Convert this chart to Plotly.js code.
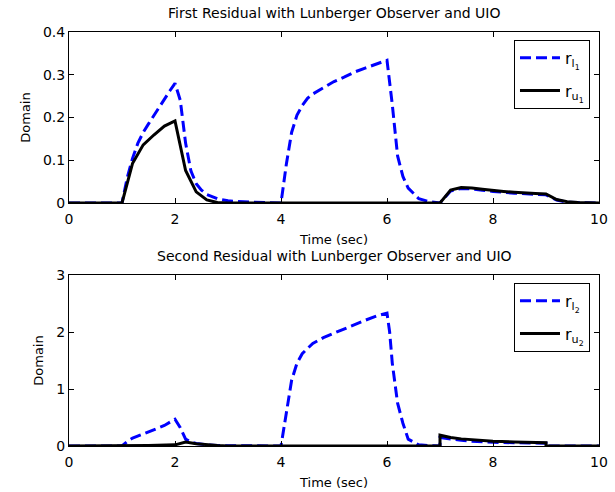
<!DOCTYPE html>
<html>
<head>
<meta charset="utf-8">
<script src="https://cdn.plot.ly/plotly-3.0.1.min.js"></script>
<style>html,body{margin:0;padding:0;background:#fff}#chart{width:615px;height:492px}</style>
</head>
<body>
<div id="chart"></div>
<script>
// Top panel: first residual
var t_l1 = [0, 1.0, 1.1, 1.2, 1.3, 1.4, 1.5, 1.6, 1.7, 1.8, 1.9, 2.0, 2.1, 2.2, 2.3, 2.4, 2.5, 2.6, 2.8, 3.0, 3.4, 4.0, 4.1, 4.2, 4.3, 4.4, 4.5, 4.6, 4.8, 5.0, 5.2, 5.4, 5.6, 5.8, 6.0, 6.1, 6.2, 6.3, 6.4, 6.6, 6.8, 7.0, 7.2, 7.4, 7.6, 7.8, 8.0, 8.4, 8.8, 9.0, 9.2, 9.4, 9.6, 10];
var r_l1 = [0, 0, 0.06, 0.105, 0.14, 0.165, 0.185, 0.205, 0.225, 0.245, 0.262, 0.28, 0.24, 0.14, 0.075, 0.045, 0.03, 0.02, 0.01, 0.005, 0.002, 0, 0.09, 0.165, 0.205, 0.228, 0.245, 0.255, 0.27, 0.284, 0.295, 0.307, 0.316, 0.325, 0.334, 0.23, 0.11, 0.062, 0.035, 0.01, 0.003, 0, 0.028, 0.034, 0.033, 0.03, 0.027, 0.023, 0.02, 0.019, 0.007, 0.002, 0.001, 0];
var t_u1 = [0, 1.0, 1.2, 1.4, 1.6, 1.8, 2.0, 2.2, 2.4, 2.6, 2.8, 3.0, 7.0, 7.2, 7.4, 7.6, 7.8, 8.0, 8.2, 8.4, 8.6, 8.8, 9.0, 9.2, 9.4, 9.6, 10];
var r_u1 = [0, 0, 0.093, 0.136, 0.159, 0.18, 0.192, 0.076, 0.026, 0.007, 0.001, 0, 0, 0.03, 0.036, 0.035, 0.032, 0.029, 0.027, 0.025, 0.023, 0.022, 0.021, 0.008, 0.003, 0.001, 0];

// Bottom panel: second residual
var t_l2 = [0, 1.0, 1.1, 1.2, 1.4, 1.6, 1.8, 2.0, 2.1, 2.2, 2.3, 2.4, 2.6, 2.8, 3.0, 4.0, 4.1, 4.2, 4.3, 4.4, 4.6, 4.8, 5.0, 5.2, 5.4, 5.6, 5.8, 6.0, 6.05, 6.1, 6.2, 6.3, 6.4, 6.6, 6.8, 7.0, 7.0, 7.2, 7.4, 7.6, 8.0, 8.5, 9.0, 9.0, 10];
var r_l2 = [0, 0.0, 0.08, 0.14, 0.21, 0.28, 0.36, 0.47, 0.32, 0.12, 0.07, 0.045, 0.02, 0.01, 0.005, 0, 0.6, 1.15, 1.45, 1.62, 1.8, 1.9, 1.98, 2.06, 2.14, 2.21, 2.28, 2.33, 2.0, 1.45, 0.75, 0.4, 0.12, 0.02, 0.005, 0, 0.15, 0.12, 0.1, 0.085, 0.065, 0.055, 0.05, 0, 0];
var t_u2 = [0, 1.0, 1.5, 2.0, 2.2, 2.4, 2.6, 2.8, 3.0, 7.0, 7.0, 7.2, 7.4, 7.6, 8.0, 8.4, 8.8, 9.0, 9.0, 10];
var r_u2 = [0, 0, 0.01, 0.02, 0.07, 0.04, 0.02, 0.008, 0, 0, 0.19, 0.15, 0.125, 0.11, 0.085, 0.072, 0.062, 0.058, 0, 0];

var titles = ["First Residual with Lunberger Observer and UIO", "Second Residual with Lunberger Observer and UIO"];
var xTicks = [0, 2, 4, 6, 8, 10];
var y1Ticks = [0, 0.1, 0.2, 0.3, 0.4];
var y2Ticks = [0, 1, 2, 3];

var FONT = "DejaVu Sans, sans-serif";
var dashBlue = {color: "#0000ff", width: 3, dash: "11px,5px"};
var solidBlack = {color: "#000000", width: 3};

var traces = [
  {x: t_l1, y: r_l1, xaxis: "x", yaxis: "y", mode: "lines", line: dashBlue, name: "r<sub>l<sub>1</sub></sub>", legend: "legend", legendgroup: "a"},
  {x: t_u1, y: r_u1, xaxis: "x", yaxis: "y", mode: "lines", line: solidBlack, name: "r<sub>u<sub>1</sub></sub>", legend: "legend", legendgroup: "b"},
  {x: t_l2, y: r_l2, xaxis: "x2", yaxis: "y2", mode: "lines", line: dashBlue, name: "r<sub>l<sub>2</sub></sub>", legend: "legend2", legendgroup: "c"},
  {x: t_u2, y: r_u2, xaxis: "x2", yaxis: "y2", mode: "lines", line: solidBlack, name: "r<sub>u<sub>2</sub></sub>", legend: "legend2", legendgroup: "d"}
];

function xax(anchor) {
  return {anchor: anchor, domain: [0, 1], range: [0, 10], tickvals: xTicks, ticktext: xTicks.map(String),
    ticks: "inside", ticklen: 5, tickcolor: "#000", showline: true, linecolor: "#000", linewidth: 1,
    mirror: "ticks", showgrid: false, zeroline: false, ticklabelstandoff: 3,
    tickfont: {family: FONT, size: 14, color: "#000"},
    title: {text: "Time (sec)", font: {family: FONT, size: 13, color: "#000"}, standoff: 9}};
}
function yax(anchor, domain, range, ticks) {
  return {anchor: anchor, domain: domain, range: range, tickvals: ticks, ticktext: ticks.map(String),
    ticks: "inside", ticklen: 5, tickcolor: "#000", showline: true, linecolor: "#000", linewidth: 1,
    mirror: "ticks", showgrid: false, zeroline: false,
    tickfont: {family: FONT, size: 14, color: "#000"},
    title: {text: "Domain", font: {family: FONT, size: 13, color: "#000"}, standoff: 9}};
}

var legendCommon = {bgcolor: "#fff", bordercolor: "#000", borderwidth: 1,
  font: {family: FONT, size: 16, color: "#000"}, xanchor: "right", yanchor: "top",
  tracegroupgap: 9, itemwidth: 40};

var layout = {
  width: 615, height: 492,
  margin: {l: 69, r: 16, t: 32, b: 46},
  paper_bgcolor: "#fff", plot_bgcolor: "#fff",
  showlegend: true,
  xaxis: xax("y"),
  yaxis: yax("x", [0.587, 1], [0, 0.4], y1Ticks),
  xaxis2: xax("y2"),
  yaxis2: yax("x2", [0, 0.413], [0, 3], y2Ticks),
  legend: Object.assign({x: 0.983, y: 0.981}, legendCommon),
  legend2: Object.assign({x: 0.983, y: 0.394}, legendCommon),
  annotations: [
    {text: titles[0], xref: "paper", yref: "paper", x: 0.5, y: 1, yshift: 9, yanchor: "bottom", showarrow: false,
     font: {family: FONT, size: 14, color: "#000"}},
    {text: titles[1], xref: "paper", yref: "paper", x: 0.5, y: 0.413, yshift: 9, yanchor: "bottom", showarrow: false,
     font: {family: FONT, size: 14, color: "#000"}}
  ]
};

Plotly.newPlot("chart", traces, layout, {staticPlot: true, displayModeBar: false});
</script>
</body>
</html>
